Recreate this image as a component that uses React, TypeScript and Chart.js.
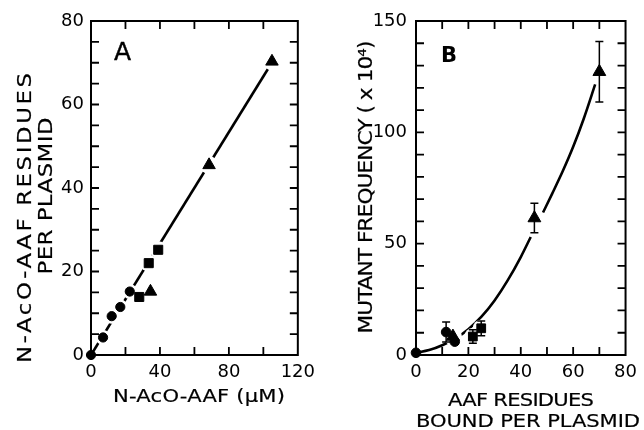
import React, { useEffect, useRef } from "react";
import { Chart, registerables } from "chart.js";
Chart.register(...registerables);

// ---------- Panel A data ----------
const A_CIRCLE_X = [0, 7, 12, 17, 22.5];
const A_CIRCLE_Y = [0, 4.2, 9.3, 11.5, 15.2];
const A_SQUARE_X = [28, 33.5, 39];
const A_SQUARE_Y = [13.9, 22, 25.2];
const A_TRIANGLE_X = [34.5, 68.5, 105];
const A_TRIANGLE_Y = [15.2, 45.5, 70.3];
const A_FIT_X = [0, 104];
const A_FIT_Y = [0, 69.4];
const A_X_TICKS = [0, 40, 80, 120];
const A_Y_TICKS = [0, 20, 40, 60, 80];
const A_X_MARKS = [20, 40, 60, 80, 100];
const A_Y_MARKS = [5, 10, 15, 20, 25, 30, 35, 40, 45, 50, 55, 60, 65, 70, 75];

// ---------- Panel B data ----------
const B_CIRCLE_X = [0, 11.5, 14.8];
const B_CIRCLE_Y = [1, 10.3, 6];
const B_CIRCLE_ERR = [0, 4.5, 0];
const B_SQUARE_X = [21.7, 24.9];
const B_SQUARE_Y = [8.3, 12];
const B_SQUARE_ERR = [3, 3.3];
const B_TRIANGLE_X = [14.1, 45.2, 70];
const B_TRIANGLE_Y = [8.3, 61.5, 127.2];
const B_TRIANGLE_ERR = [0, 6.6, 13.6];
const B_FIT_X = [0, 5, 10, 15, 20, 25, 30, 35, 40, 43.8, 46, 48.5, 52, 56, 60, 64, 68.4];
const B_FIT_Y = [1, 2.2, 4.4, 7.4, 11.6, 17.2, 24.5, 33.5, 44, 53, null, 64, 72.5, 82.5, 93.5, 106, 121.5];
const B_X_TICKS = [0, 20, 40, 60, 80];
const B_Y_TICKS = [0, 50, 100, 150];
const B_X_MARKS = [10, 20, 30, 40, 50, 60, 70];
const B_Y_MARKS = [10, 20, 30, 40, 50, 60, 70, 80, 90, 100, 110, 120, 130, 140];

const FONT = '"DejaVu Sans"';
const STRETCH = 1.14;

const zip = (xs: number[], ys: (number | null)[]) => xs.map((x, i) => ({ x, y: ys[i] }));
const noOrigin = (pts: { x: number; y: number | null }[]) => pts.filter((p) => p.x > 0);

type TextSpec = { text: string; x: number; y: number; width?: number; rotate?: boolean; font: string; stretch?: number; weight?: number };

function drawSpaced(ctx: CanvasRenderingContext2D, t: TextSpec) {
  ctx.save();
  ctx.font = t.font;
  ctx.fillStyle = "#000";
  ctx.strokeStyle = "#000";
  ctx.textBaseline = "alphabetic";
  ctx.textAlign = "left";
  (ctx as any).letterSpacing = "0px";
  const k = t.stretch ?? 1;
  const w0 = ctx.measureText(t.text).width;
  const n = Array.from(t.text).length;
  let sp = 0;
  if (t.width && n > 1) sp = (t.width - w0 * k) / (n - 1);
  const total = w0 * k + sp * (n - 1);
  (ctx as any).letterSpacing = sp / k + "px";
  ctx.translate(t.x, t.y);
  if (t.rotate) ctx.rotate(-Math.PI / 2);
  ctx.scale(k, 1);
  ctx.fillText(t.text, -total / 2 / k, 0);
  if (t.weight) {
    ctx.lineWidth = t.weight;
    ctx.strokeText(t.text, -total / 2 / k, 0);
  }
  ctx.restore();
}

const framePlugin = {
  id: "frame",
  afterDatasetsDraw(chart: any, _args: any, opts: any) {
    const { ctx, chartArea: a, scales } = chart;
    const L = 8;
    ctx.save();
    ctx.strokeStyle = "#000";
    ctx.lineWidth = 2;
    ctx.strokeRect(a.left, a.top, a.right - a.left, a.bottom - a.top);
    ctx.lineWidth = 1.8;
    ctx.beginPath();
    for (const v of opts.xMarks) {
      const p = scales.x.getPixelForValue(v);
      ctx.moveTo(p, a.bottom);
      ctx.lineTo(p, a.bottom - L);
      ctx.moveTo(p, a.top);
      ctx.lineTo(p, a.top + L);
    }
    for (const v of opts.yMarks) {
      const p = scales.y.getPixelForValue(v);
      ctx.moveTo(a.left, p);
      ctx.lineTo(a.left + L, p);
      ctx.moveTo(a.right, p);
      ctx.lineTo(a.right - L, p);
    }
    ctx.stroke();
    ctx.restore();
  },
};

const errorPlugin = {
  id: "errorBars",
  afterDatasetsDraw(chart: any) {
    const { ctx, scales } = chart;
    ctx.save();
    ctx.strokeStyle = "#000";
    ctx.lineWidth = 1.5;
    chart.data.datasets.forEach((ds: any) => {
      if (!ds.errorBars) return;
      ds.data.forEach((pt: any, i: number) => {
        const e = ds.errorBars[i];
        if (!e) return;
        const px = scales.x.getPixelForValue(pt.x);
        const top = scales.y.getPixelForValue(pt.y + e);
        const bot = scales.y.getPixelForValue(pt.y - e);
        ctx.beginPath();
        ctx.moveTo(px, top);
        ctx.lineTo(px, bot);
        ctx.moveTo(px - 4, top);
        ctx.lineTo(px + 4, top);
        ctx.moveTo(px - 4, bot);
        ctx.lineTo(px + 4, bot);
        ctx.stroke();
      });
    });
    ctx.restore();
  },
};

const textPlugin = {
  id: "texts",
  afterDraw(chart: any, _args: any, opts: any) {
    for (const t of opts.items as TextSpec[]) drawSpaced(chart.ctx, t);
  },
};

function markerSet(data: any[], style: string, radius: number, extra: any = {}) {
  return {
    data,
    pointStyle: style,
    pointRadius: radius,
    pointBackgroundColor: "#000",
    pointBorderColor: "#000",
    pointBorderWidth: 1,
    showLine: false,
    clip: false,
    order: 1,
    ...extra,
  };
}

function haloSet(data: any[], radius: number) {
  return {
    data,
    pointStyle: "circle",
    pointRadius: radius,
    pointBackgroundColor: "#fff",
    pointBorderWidth: 0,
    showLine: false,
    order: 2,
  };
}

function buildConfig(p: {
  datasets: any[];
  xMin: number; xMax: number; yMin: number; yMax: number;
  xTicks: number[]; yTicks: number[]; xMarks: number[]; yMarks: number[];
  yWidth: number; padRight: number; yPad: number; texts: TextSpec[];
}): any {
  const tickFont = { family: FONT, size: 18 };
  return {
    type: "scatter",
    data: { datasets: p.datasets },
    plugins: [framePlugin, errorPlugin, textPlugin],
    options: {
      responsive: false,
      animation: false,
      events: [],
      layout: { padding: { left: 0, right: p.padRight, top: 21, bottom: 0 } },
      plugins: {
        legend: { display: false },
        tooltip: { enabled: false },
        frame: { xMarks: p.xMarks, yMarks: p.yMarks },
        texts: { items: p.texts },
      },
      scales: {
        x: {
          type: "linear",
          min: p.xMin,
          max: p.xMax,
          afterBuildTicks: (s: any) => { s.ticks = p.xTicks.map((v) => ({ value: v })); },
          afterFit: (s: any) => { s.height = 75; },
          grid: { display: false, drawTicks: false },
          border: { display: false },
          ticks: { padding: 7, font: tickFont, color: "#000", maxRotation: 0, autoSkip: false, callback: (v: any) => String(v) },
        },
        y: {
          type: "linear",
          min: p.yMin,
          max: p.yMax,
          afterBuildTicks: (s: any) => { s.ticks = p.yTicks.map((v) => ({ value: v })); },
          afterFit: (s: any) => { s.width = p.yWidth; },
          grid: { display: false, drawTicks: false },
          border: { display: false },
          ticks: { padding: p.yPad, font: tickFont, color: "#000", autoSkip: false, callback: (v: any) => String(v) },
        },
      },
    },
  };
}

function configA() {
  const circles = zip(A_CIRCLE_X, A_CIRCLE_Y);
  const squares = zip(A_SQUARE_X, A_SQUARE_Y);
  const triangles = zip(A_TRIANGLE_X, A_TRIANGLE_Y);
  return buildConfig({
    datasets: [
      { data: zip(A_FIT_X, A_FIT_Y), showLine: true, pointRadius: 0, borderColor: "#000", borderWidth: 2.6, order: 3 },
      haloSet(noOrigin(circles), 7.5),
      haloSet(squares, 8.5),
      haloSet(triangles, 9),
      markerSet(circles, "circle", 4.6),
      markerSet(squares, "rect", 6.4),
      markerSet(triangles, "triangle", 7.2),
    ],
    xMin: 0, xMax: 120, yMin: 0, yMax: 80,
    xTicks: A_X_TICKS, yTicks: A_Y_TICKS, xMarks: A_X_MARKS, yMarks: A_Y_MARKS,
    yWidth: 91, padRight: 21, yPad: 7,
    texts: [
      { text: "N-AcO-AAF RESIDUES", x: 30.7, y: 218, width: 290, rotate: true, font: `20px ${FONT}`, stretch: STRETCH, weight: 0.2 },
      { text: "PER PLASMID", x: 51.7, y: 196, width: 157, rotate: true, font: `20px ${FONT}`, stretch: STRETCH, weight: 0.2 },
      { text: "N-AcO-AAF (μM)", x: 199, y: 402, width: 172, font: `18.5px ${FONT}`, stretch: STRETCH, weight: 0.2 },
      { text: "A", x: 122.5, y: 60, font: `25px ${FONT}`, weight: 0.4 },
    ],
  });
}

function configB() {
  const circles = zip(B_CIRCLE_X, B_CIRCLE_Y);
  const squares = zip(B_SQUARE_X, B_SQUARE_Y);
  const triangles = zip(B_TRIANGLE_X, B_TRIANGLE_Y);
  const OFF = 322;
  return buildConfig({
    datasets: [
      { data: zip(B_FIT_X, B_FIT_Y), showLine: true, pointRadius: 0, borderColor: "#000", borderWidth: 2.6, cubicInterpolationMode: "monotone", spanGaps: false, order: 3 },
      haloSet(noOrigin(circles), 7.5),
      haloSet(squares, 8.5),
      haloSet(triangles, 9),
      markerSet(circles, "circle", 4.8, { errorBars: B_CIRCLE_ERR }),
      markerSet(squares, "rect", 6.2, { errorBars: B_SQUARE_ERR }),
      markerSet(triangles, "triangle", 7.4, { errorBars: B_TRIANGLE_ERR }),
    ],
    xMin: 0, xMax: 80, yMin: 0, yMax: 150,
    xTicks: B_X_TICKS, yTicks: B_Y_TICKS, xMarks: B_X_MARKS, yMarks: B_Y_MARKS,
    yWidth: 416 - OFF, padRight: 322 - (627 - OFF), yPad: 9,
    texts: [
      { text: "MUTANT FREQUENCY ( x 10⁴)", x: 372 - OFF, y: 187, width: 293, rotate: true, font: `19px ${FONT}`, stretch: STRETCH, weight: 0.2 },
      { text: "AAF RESIDUES", x: 521 - OFF, y: 406, width: 146, font: `18.5px ${FONT}`, stretch: STRETCH, weight: 0.2 },
      { text: "BOUND PER PLASMID", x: 528 - OFF, y: 427, width: 224, font: `18.5px ${FONT}`, stretch: STRETCH, weight: 0.2 },
      { text: "B", x: 449 - OFF, y: 61.5, font: `bold 21px ${FONT}` },
    ],
  });
}

function Panel({ make, left }: { make: () => any; left: number }) {
  const ref = useRef<HTMLCanvasElement>(null);
  useEffect(() => {
    const chart = new Chart(ref.current as HTMLCanvasElement, make());
    return () => chart.destroy();
  }, []);
  return (
    <canvas
      ref={ref}
      width={322}
      height={430}
      style={{ position: "absolute", left, top: 0, width: 322, height: 430 }}
    />
  );
}

export default function App() {
  return (
    <div style={{ position: "fixed", left: 0, top: 0, width: 644, height: 430, background: "#fff", overflow: "hidden" }}>
      <Panel make={configA} left={0} />
      <Panel make={configB} left={322} />
    </div>
  );
}
